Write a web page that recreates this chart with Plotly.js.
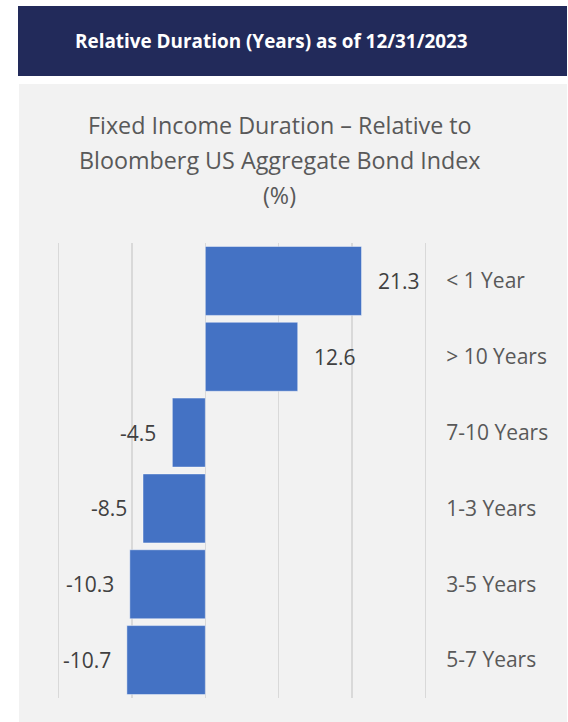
<!DOCTYPE html>
<html>
<head>
<meta charset="utf-8">
<script src="https://cdn.plot.ly/plotly-3.0.1.min.js"></script>
<style>
  html, body { margin: 0; padding: 0; background: #ffffff; }
  #chart { width: 568px; height: 722px; }
</style>
</head>
<body>
<div id="chart"></div>
<script>
// Data (top to bottom as displayed)
const categories = ["< 1 Year", "> 10 Years", "7-10 Years", "1-3 Years", "3-5 Years", "5-7 Years"];
const values = [21.3, 12.6, -4.5, -8.5, -10.3, -10.7];
const headerText = "Relative Duration (Years) as of 12/31/2023";
const titleLines = ["Fixed Income Duration \u2013 Relative to", "Bloomberg US Aggregate Bond Index", "(%)"];

const W = 568, H = 722;
const ml = 55, mr = 139, mt = 243, mb = 24;
const pw = W - ml - mr, ph = H - mt - mb;
const px = x => (x - ml) / pw;
const py = y => (H - mb - y) / ph;

const font = "'Open Sans', 'Noto Sans', sans-serif";

const trace = {
  type: 'bar',
  orientation: 'h',
  x: values,
  y: categories,
  marker: { color: '#4472C4', line: { color: 'rgba(255,255,255,0.45)', width: 1 } },
  hoverinfo: 'x+y',
  cliponaxis: false
};

const valueAnnotations = values.map((v, i) => ({
  x: v, y: categories[i], xref: 'x', yref: 'y',
  text: v.toFixed(1),
  showarrow: false,
  xanchor: v >= 0 ? 'left' : 'right',
  yanchor: 'middle',
  xshift: v >= 0 ? 14 : -14,
  font: { family: font, size: 21, color: '#404040' }
}));

const titleY = [125, 160, 195];
const titleAnnotations = titleLines.map((t, i) => ({
  x: px(279.5), y: py(titleY[i]), xref: 'paper', yref: 'paper',
  text: t, showarrow: false, xanchor: 'center', yanchor: 'middle',
  font: { family: font, size: 23.3, color: '#595959' }
}));

const headerAnnotation = {
  x: px(271), y: py(41), xref: 'paper', yref: 'paper',
  text: '<b>' + headerText + '</b>', showarrow: false,
  xanchor: 'center', yanchor: 'middle',
  font: { family: font, size: 18.9, color: '#ffffff' }
};

const layout = {
  width: W, height: H,
  margin: { l: ml, r: mr, t: mt, b: mb, pad: 0 },
  paper_bgcolor: '#ffffff',
  plot_bgcolor: '#F2F2F2',
  showlegend: false,
  bargap: 0.09,
  xaxis: {
    range: [-20.5, 30.5], dtick: 10, tick0: 0,
    showticklabels: false, ticks: '',
    showgrid: true, gridcolor: '#D9D9D9', gridwidth: 1.5,
    zeroline: false, showline: false, fixedrange: true
  },
  yaxis: {
    type: 'category', autorange: 'reversed', side: 'right',
    showgrid: false, zeroline: false, showline: false,
    ticks: 'outside', ticklen: 12, tickcolor: 'rgba(0,0,0,0)',
    tickfont: { family: font, size: 21, color: '#595959' },
    fixedrange: true
  },
  shapes: [
    { type: 'rect', xref: 'paper', yref: 'paper', layer: 'below',
      x0: px(19), x1: px(567), y0: py(722), y1: py(84),
      fillcolor: '#F2F2F2', line: { width: 0 } },
    { type: 'rect', xref: 'paper', yref: 'paper', layer: 'below',
      x0: px(18), x1: px(567), y0: py(76), y1: py(6),
      fillcolor: '#222A5A', line: { width: 0 } }
  ],
  annotations: [headerAnnotation, ...titleAnnotations, ...valueAnnotations]
};

Plotly.newPlot('chart', [trace], layout, { displayModeBar: false, staticPlot: true });
</script>
</body>
</html>
